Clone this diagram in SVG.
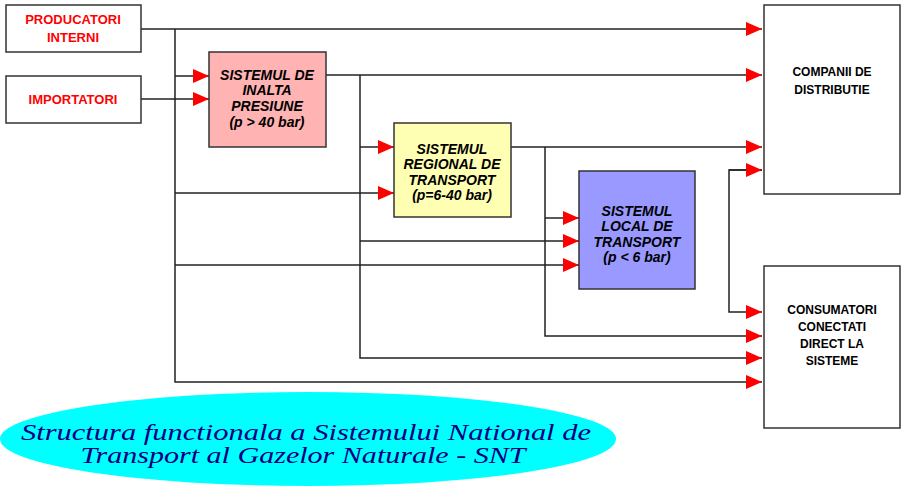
<svg xmlns="http://www.w3.org/2000/svg" width="905" height="494" viewBox="0 0 905 494">
<style>
.box{stroke:#333;stroke-width:1.5}
.src{font:bold 13px "Liberation Sans",Arial,sans-serif;fill:#ff0000;text-anchor:middle}
.sys{font:italic bold 14px "Liberation Sans",Arial,sans-serif;fill:#000;text-anchor:middle}
.dst{font:bold 12px "Liberation Sans",Arial,sans-serif;fill:#000;text-anchor:middle}
.ln{fill:none;stroke:#222;stroke-width:1.5}
.ttl{font:italic 24px "Liberation Serif","Times New Roman",serif;fill:#000080;text-anchor:middle}
</style>
<defs>
<marker id="a" viewBox="0 0 16 14" refX="16" refY="7" markerWidth="16" markerHeight="14" markerUnits="userSpaceOnUse" orient="auto"><path d="M0,0L16,7L0,14z" fill="#ff0000"/></marker>
</defs>
<rect width="905" height="494" fill="#fff"/>
<g id="connectors" class="ln" marker-end="url(#a)">
<path d="M141,29H762"/>
<path d="M175,29V382H762"/>
<path d="M175,76H209"/>
<path d="M141,99H209"/>
<path d="M326,75H762"/>
<path d="M360,75V358H762"/>
<path d="M360,147H394"/>
<path d="M175,193H394"/>
<path d="M511,147H762"/>
<path d="M545,147V336H762"/>
<path d="M545,218H579"/>
<path d="M360,241H579"/>
<path d="M175,265H579"/>
<path d="M762,170H729V312H762"/>
<path d="M729,170H762"/>
</g>
<g id="producatori"><rect class="box" x="6" y="5" width="135" height="47" fill="#fff"/><text class="src" x="73" y="24">PRODUCATORI</text><text class="src" x="73" y="42">INTERNI</text></g>
<g id="importatori"><rect class="box" x="6" y="76" width="135" height="47" fill="#fff"/><text class="src" x="73" y="104">IMPORTATORI</text></g>
<g id="inalta"><rect class="box" x="209" y="52" width="117" height="95" fill="#ffb3b3"/><text class="sys" x="267" y="80">SISTEMUL DE</text><text class="sys" x="267" y="95">INALTA</text><text class="sys" x="267" y="111">PRESIUNE</text><text class="sys" x="267" y="127">(p &gt; 40 bar)</text></g>
<g id="regional"><rect class="box" x="394" y="123" width="117" height="94" fill="#ffffb3"/><text class="sys" x="452" y="154">SISTEMUL</text><text class="sys" x="452" y="169">REGIONAL DE</text><text class="sys" x="452" y="185">TRANSPORT</text><text class="sys" x="452" y="200">(p=6-40 bar)</text></g>
<g id="local"><rect class="box" x="579" y="171" width="116" height="118" fill="#9999ff"/><text class="sys" x="637" y="216">SISTEMUL</text><text class="sys" x="637" y="231">LOCAL DE</text><text class="sys" x="637" y="247">TRANSPORT</text><text class="sys" x="637" y="262">(p &lt; 6 bar)</text></g>
<g id="companii"><rect class="box" x="764" y="5" width="136" height="189" fill="#fff"/><text class="dst" x="832" y="76">COMPANII DE</text><text class="dst" x="832" y="94">DISTRIBUTIE</text></g>
<g id="consumatori"><rect class="box" x="764" y="266" width="136" height="162" fill="#fff"/><text class="dst" x="832" y="314">CONSUMATORI</text><text class="dst" x="832" y="331">CONECTATI</text><text class="dst" x="832" y="348">DIRECT LA</text><text class="dst" x="832" y="365">SISTEME</text></g>
<g id="title"><ellipse cx="308" cy="439" rx="308" ry="47" fill="#00ffff"/><text class="ttl" x="306" y="440" textLength="570" lengthAdjust="spacingAndGlyphs">Structura functionala a Sistemului National de</text><text class="ttl" x="303" y="463" textLength="445" lengthAdjust="spacingAndGlyphs">Transport al Gazelor Naturale - SNT</text></g>
</svg>
